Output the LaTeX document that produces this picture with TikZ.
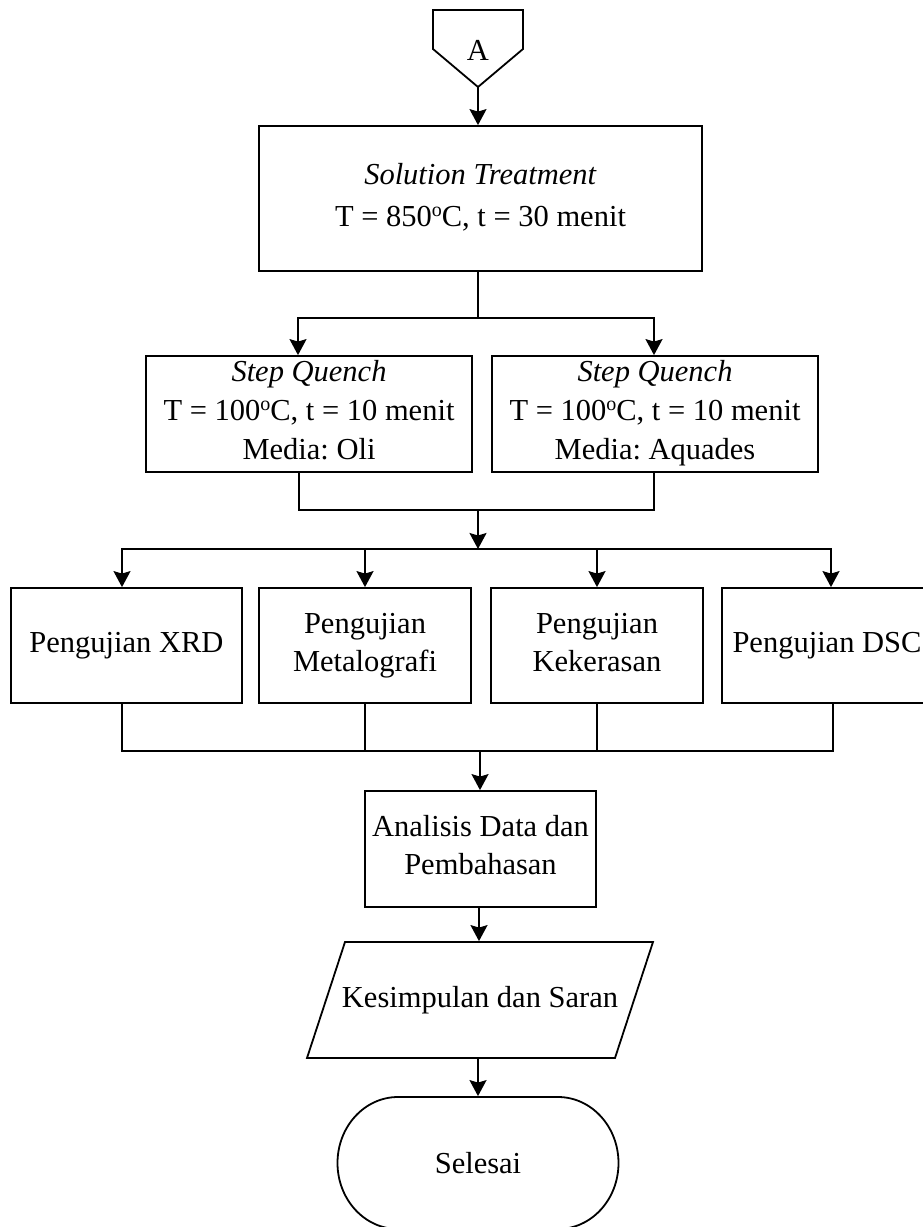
\documentclass[tikz,border=0pt]{standalone}
\usepackage{fontspec}
\setmainfont{Liberation Serif}
\usetikzlibrary{arrows.meta}
\newcommand\mystrut{\rule[-8pt]{0pt}{29pt}}
\newcommand\dego{\raisebox{10pt}{\fontsize{20}{20}\selectfont o}}
\frenchspacing
\begin{document}
\begin{tikzpicture}[x=1pt,y=-1pt,
  line width=1.8pt,
  every node/.style={font=\fontsize{30.5}{41}\selectfont\frenchspacing, inner sep=0pt},
  box/.style={draw, rectangle, align=center, line width=1.8pt},
  tight/.style={font=\fontsize{30.5}{38}\selectfont\frenchspacing},
  arr/.style={-{Stealth[length=16pt,width=17pt,inset=2.5pt]}},
]
\useasboundingbox (0,0) rectangle (922,1227);

% off-page connector
\draw (433,10) -- (523,10) -- (523,49) -- (478,87) -- (433,49) -- cycle;
\coordinate (Atip) at (478,87);
\node[anchor=base] (A) at (478,60) {A};

% boxes
\node[box, font=\fontsize{30.5}{42}\selectfont\frenchspacing, minimum width=443pt, minimum height=145pt] (sol) at (480.5,198.5)
  {\mystrut\textit{Solution Treatment}\\\mystrut T = 850\dego C, t = 30 menit};
\node[box, font=\fontsize{30.5}{39}\selectfont\frenchspacing, minimum width=326pt, minimum height=116pt] (sq1) at (309,414)
  {\mystrut\textit{Step Quench}\\\mystrut T = 100\dego C, t = 10 menit\\\mystrut Media: Oli};
\node[box, font=\fontsize{30.5}{39}\selectfont\frenchspacing, minimum width=326pt, minimum height=116pt] (sq2) at (655,414)
  {\mystrut\textit{Step Quench}\\\mystrut T = 100\dego C, t = 10 menit\\\mystrut Media: Aquades};

\node[box, minimum width=231pt, minimum height=115pt] (xrd) at (126.5,645.5) {Pengujian XRD};
\node[box, tight, minimum width=212pt, minimum height=115pt] (met) at (365,645.5) {\mystrut Pengujian\\\mystrut Metalografi};
\node[box, tight, minimum width=212pt, minimum height=115pt] (kek) at (597,645.5) {\mystrut Pengujian\\\mystrut Kekerasan};
\node[box, minimum width=220pt, minimum height=115pt] (dsc) at (832,645.5) {\hspace*{-10pt}Pengujian DSC};

\node[box, tight, minimum width=231pt, minimum height=116pt] (ana) at (480.5,849) {\mystrut Analisis Data dan\\\mystrut Pembahasan};

\node[minimum width=346pt, minimum height=116pt] (kes) at (480,1000) {Kesimpulan dan Saran};
\draw ([shift={(-135,-58)}]kes.center) -- ([shift={(173,-58)}]kes.center)
   -- ([shift={(135,58)}]kes.center) -- ([shift={(-173,58)}]kes.center) -- cycle;

\node[minimum width=281pt, minimum height=132pt] (sel) at (478,1163) {Selesai};
\draw ([shift={(-80,-66)}]sel.center) -- ([shift={(80,-66)}]sel.center)
   arc[start angle=90, end angle=-90, x radius=60.5pt, y radius=66pt]
   -- ([shift={(-80,66)}]sel.center)
   arc[start angle=270, end angle=90, x radius=60.5pt, y radius=66pt] -- cycle;

% junctions
\coordinate (j1) at (478,318);
\coordinate (j2) at (478,510);
\coordinate (j3) at (478,549);
\coordinate (j4) at (480,751);

% connectors
\draw[arr] (Atip) -- (Atip |- sol.north);
\draw ([xshift=-2.5pt]sol.south) -- (j1);
\draw[arr] (j1) -| ([xshift=-11pt]sq1.north);
\draw[arr] (j1) -| ([xshift=-1pt]sq2.north);
\draw ([xshift=-10pt]sq1.south) |- (j2);
\draw ([xshift=-1pt]sq2.south) |- (j2);
\draw[arr] (j2) -- (j3);
\draw[arr] (j3) -| ([xshift=-4.5pt]xrd.north);
\draw[arr] (j3) -| (met.north);
\draw[arr] (j3) -| (kek.north);
\draw[arr] (j3) -| ([xshift=-1pt]dsc.north);
\draw ([xshift=-4.5pt]xrd.south) |- (j4);
\draw (met.south) -- (met.south |- j4);
\draw (kek.south) -- (kek.south |- j4);
\draw ([xshift=1pt]dsc.south) |- (j4);
\draw[arr] (j4) -- (j4 |- ana.north);
\draw[arr] ([xshift=-1.5pt]ana.south) -- ([xshift=-1.5pt]ana.south |- kes.north);
\draw[arr] (kes.south -| sel.north) -- (sel.north);
\end{tikzpicture}
\end{document}
